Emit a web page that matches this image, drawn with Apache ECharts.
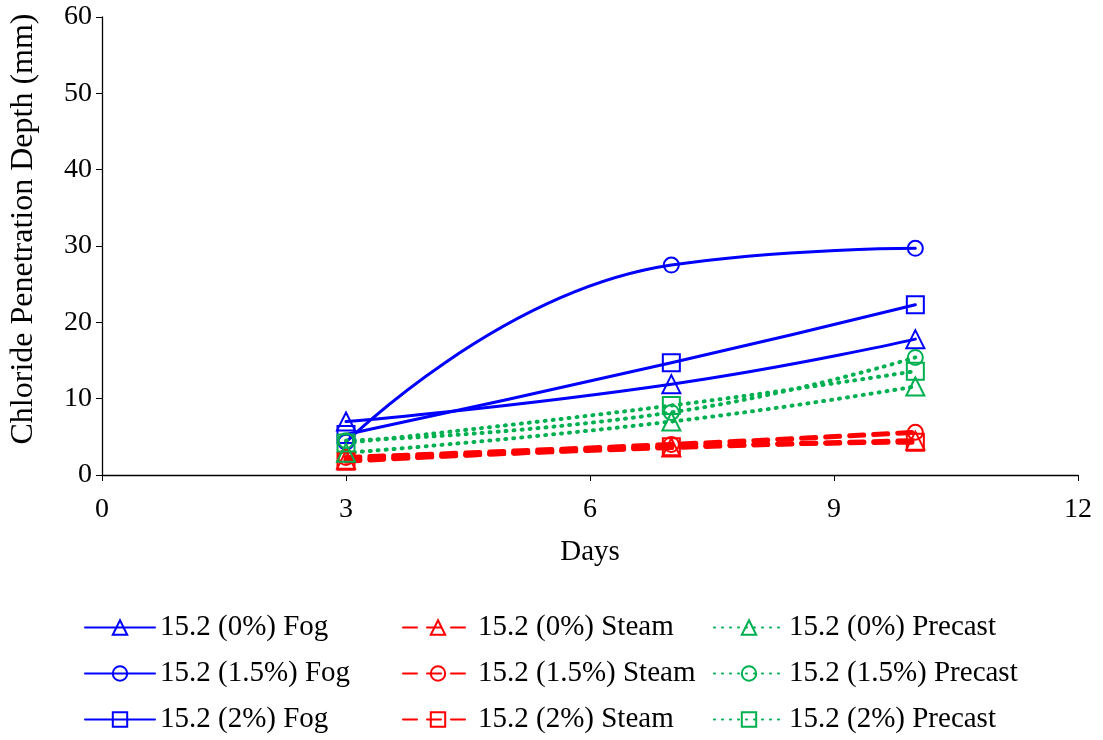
<!DOCTYPE html>
<html>
<head>
<meta charset="utf-8">
<script src="https://cdn.jsdelivr.net/npm/echarts@6/dist/echarts.min.js"></script>
<style>html,body{margin:0;padding:0;background:#fff}#c{width:1103px;height:740px}</style>
</head>
<body>
<div id="c"></div>
<script>
const days = [3, 7, 10];
const fog0 = [7.0, 11.9, 17.8];
const fog15 = [4.3, 27.5, 29.7];
const fog2 = [5.3, 14.7, 22.3];
const steam0 = [2.0, 3.6, 4.5];
const steam15 = [2.3, 4.0, 5.6];
const steam2 = [1.8, 3.7, 4.3];
const precast0 = [2.9, 7.0, 11.6];
const precast15 = [4.5, 8.2, 15.4];
const precast2 = [4.2, 9.1, 13.6];
const xTicks = [0, 3, 6, 9, 12];
const yTicks = [0, 10, 20, 30, 40, 50, 60];

const BLUE = '#0000FF', RED = '#FF0000', GREEN = '#00B050';
const FONT = 'Liberation Serif';

function pts(v) { return days.map((d, i) => [d, v[i]]); }
function mk(name, vals, color, symbol, size, lineType, width) {
  return {
    name: name, type: 'line', data: pts(vals), smooth: 0.5,
    symbol: symbol, symbolSize: size,
    lineStyle: { color: color, width: width, type: lineType, cap: 'round' },
    itemStyle: { color: 'rgba(0,0,0,0)', borderColor: color, borderWidth: 2 },
    emphasis: { disabled: true }
  };
}
const series = [
  mk('15.2 (0%) Fog', fog0, BLUE, 'triangle', 18, 'solid', 3),
  mk('15.2 (1.5%) Fog', fog15, BLUE, 'circle', 15, 'solid', 3),
  mk('15.2 (2%) Fog', fog2, BLUE, 'rect', 17, 'solid', 3),
  mk('15.2 (0%) Steam', steam0, RED, 'triangle', 18, [14, 10], 5),
  mk('15.2 (1.5%) Steam', steam15, RED, 'circle', 15, [14, 10], 5),
  mk('15.2 (2%) Steam', steam2, RED, 'rect', 17, [14, 10], 5),
  mk('15.2 (0%) Precast', precast0, GREEN, 'triangle', 18, [1, 7], 4),
  mk('15.2 (1.5%) Precast', precast15, GREEN, 'circle', 15, [1, 7], 4),
  mk('15.2 (2%) Precast', precast2, GREEN, 'rect', 17, [1, 7], 4)
];

function legend(left, names) {
  return {
    left: left, top: 608, orient: 'vertical', itemGap: 17,
    itemWidth: 70, itemHeight: 18,
    textStyle: { fontFamily: FONT, fontSize: 29, color: '#000' },
    data: names, selectedMode: false
  };
}

const chart = echarts.init(document.getElementById('c'), null, { renderer: 'canvas' });
chart.setOption({
  animation: false,
  backgroundColor: '#fff',
  grid: { left: 100, right: 25, top: 17, bottom: 265 },
  xAxis: {
    type: 'value', min: 0, max: 12, interval: 3,
    name: 'Days', nameLocation: 'middle', nameGap: 63,
    nameTextStyle: { fontFamily: FONT, fontSize: 29, color: '#000' },
    axisLine: { lineStyle: { color: '#000', width: 1.3 } },
    axisTick: { show: true, length: 6, lineStyle: { color: '#000' } },
    axisLabel: { fontFamily: FONT, fontSize: 28, color: '#000', margin: 21, formatter: v => xTicks.includes(v) ? String(v) : '' },
    splitLine: { show: false }
  },
  yAxis: {
    type: 'value', min: 0, max: 60, interval: 10,
    name: 'Chloride Penetration Depth (mm)', nameLocation: 'middle', nameGap: 62,
    nameTextStyle: { fontFamily: FONT, fontSize: 32, color: '#000', padding: [0, 0, 0, 34] },
    axisLine: { show: true, lineStyle: { color: '#000', width: 1.3 } },
    axisTick: { show: true, length: 6, lineStyle: { color: '#000' } },
    axisLabel: { fontFamily: FONT, fontSize: 28, color: '#000', margin: 10, formatter: v => yTicks.includes(v) ? String(v) : '' },
    splitLine: { show: false }
  },
  legend: [
    legend(79, ['15.2 (0%) Fog', '15.2 (1.5%) Fog', '15.2 (2%) Fog']),
    legend(397, ['15.2 (0%) Steam', '15.2 (1.5%) Steam', '15.2 (2%) Steam']),
    legend(708, ['15.2 (0%) Precast', '15.2 (1.5%) Precast', '15.2 (2%) Precast'])
  ],
  series: series
});
</script>
</body>
</html>
